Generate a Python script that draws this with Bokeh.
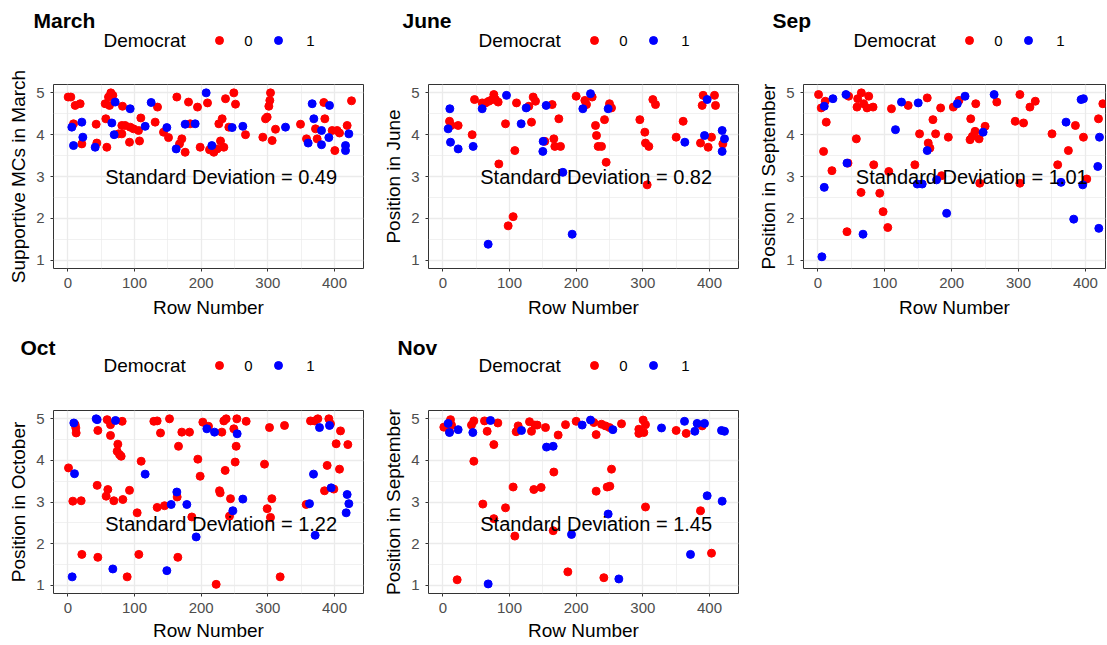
from bokeh.plotting import figure
from bokeh.layouts import row, column
from bokeh.models import Range1d, FixedTicker
from bokeh.core.properties import value
from bokeh.embed import file_html
from bokeh.resources import INLINE

# ---------------- data (Row Number, position) ----------------
titles = ["March", "June", "Sep", "Oct", "Nov"]
y_labels = ["Supportive MCs in March", "Position in June", "Position in September",
            "Position in October", "Position in September"]
sd_values = ["0.49", "0.82", "1.01", "1.22", "1.45"]
sd_label_x = [230, 230, 230, 230, 230]
sd_label_y = [3.0, 3.0, 3.0, 2.46, 2.46]
x_ticks = [0, 100, 200, 300, 400]
y_ticks = [1, 2, 3, 4, 5]
legend_title = "Democrat"
legend_labels = ["0", "1"]

march_dem0 = [(0.5,4.9),(4.5,4.9),(11,4.7),(18.5,4.74),(8.5,4.26),(21,3.78),(42.5,4.25),(43.5,3.8),
  (58.5,3.7),(57,4.38),(56,4.74),(61,4.9),(64.5,5.0),(67.5,4.94),(62.5,4.7),(82,4.68),(81,4.22),
  (86,4.22),(93.5,4.18),(76,4.02),(81,4.02),(92.5,3.82),(98.5,4.14),(106,4.1),(107.5,3.85),
  (109.5,4.4),(131,4.3),(134.5,4.66),(143.5,4.06),(151,3.93),(163.5,4.9),(181,4.78),(194.5,4.66),
  (171,3.9),(167.5,3.78),(176,3.58),(198.5,3.7),(209.5,4.76),(212.5,3.64),(183.5,4.26),(219,3.58),
  (224,3.66),(229,3.85),(234,3.7),(236.5,4.86),(249,5.0),(251.5,4.73),(231.5,4.38),(226.5,4.26),
  (241.5,4.18),(266.5,4.0),(292.5,3.94),(296.5,4.38),(299,4.42),(304,5.0),(303,4.82),(301.5,4.68),
  (306.5,3.86),(311.5,4.13),(349,4.25),(358,3.9),(371.5,4.14),(374,3.9),(384,4.77),(385.5,4.38),
  (396.5,4.1),(404,4.1),(407.5,4.04),(400.5,3.62),(419,4.22),(425.5,4.81)]
march_dem1 = [(6,4.18),(8.5,3.74),(21,4.3),(22.5,3.94),(41,3.7),(71,4.78),(66,4.28),(69.5,4.0),
  (93.5,4.62),(116,4.2),(125,4.77),(148.5,4.17),(162.5,3.66),(176,4.25),(191,4.26),(207.5,5.0),
  (216,3.74),(246.5,4.17),(262.5,4.2),(326.5,4.18),(360.5,3.8),(366.5,4.74),(369,4.38),(380.5,4.1),
  (380.5,3.76),(391.5,3.93),(392.5,4.7),(421.5,4.02),(416.5,3.74),(416.5,3.62)]

june_dem0 = [(10,4.32),(12.5,4.22),(23,4.22),(44,4.0),(47.5,4.84),(59,4.76),(64,4.76),(69,4.8),
  (74,4.84),(76.5,4.96),(79,4.84),(83,4.78),(84,3.3),(94,4.26),(98,1.82),(105.5,2.04),(108,3.62),
  (110.5,4.76),(129,4.68),(135.5,4.9),(139,4.8),(133,4.3),(153,3.84),(164,4.72),(166.5,3.9),
  (168,3.72),(176.5,3.72),(174,4.38),(200,4.92),(213,4.82),(215.5,4.72),(224,4.9),(229,4.22),
  (230.5,3.98),(233,3.72),(238,3.72),(242.5,4.36),(245,3.34),(250,4.74),(253,4.64),(295.5,4.36),
  (303,4.06),(304,3.8),(309,3.72),(306.5,2.8),(315,4.84),(319,4.72),(350,3.94),(360.5,4.32),
  (386.5,3.8),(389,4.7),(390.5,4.94),(398,3.7),(403,3.94),(407.5,4.94),(409,4.7),(420,3.78)]
june_dem1 = [(8,4.14),(10.5,4.62),(11.5,3.82),(23,3.66),(45.5,3.72),(59,4.62),(95.5,4.94),
  (117.5,4.26),(125,4.64),(150.5,3.84),(150,3.6),(155,4.7),(180,3.1),(194,1.62),(210,4.62),
  (221.5,4.98),(248,4.62),(363,3.82),(392.5,3.98),(396.5,4.84),(419,4.1),(419,3.6),(422.5,3.9),
  (68,1.38)]

sep_dem0 = [(1,4.96),(5,4.64),(11,4.8),(12.5,4.3),(8.5,3.6),(21,3.14),(45,3.32),(46,4.92),
  (43.5,1.68),(57.5,3.9),(59.5,4.86),(58.5,4.66),(65,5.0),(68.5,4.74),(73.5,4.64),(76,4.92),
  (82.5,4.66),(64.5,2.62),(83.5,3.28),(92.5,2.6),(97.5,2.16),(104.5,1.78),(106,3.12),(110,4.62),
  (135,4.7),(145,3.28),(152,4.02),(163.5,4.88),(165,3.8),(167.5,3.68),(172,4.36),(176,4.02),
  (183.5,4.64),(185,3.02),(195,3.94),(202.5,4.66),(211,4.82),(228.5,4.38),(227.5,3.88),(231,3.96),
  (235,4.08),(236,4.74),(241,3.9),(242,2.84),(250,4.2),(267.5,4.78),(295,4.32),(302,4.96),
  (302,2.84),(307.5,4.28),(317,4.66),(325,4.8),(350,4.02),(358.5,3.28),(374.5,3.62),(385,4.22),
  (397,3.94),(402,2.94),(419.5,4.38),(426,4.74)]
sep_dem1 = [(6,1.08),(9.5,4.68),(9.5,2.74),(22.5,4.86),(42,4.96),(43.5,3.32),(67.5,1.62),
  (116,4.12),(125,4.78),(148.5,2.82),(156,2.82),(150,4.76),(163.5,3.62),(177.5,2.92),(192.5,2.12),
  (208.5,4.74),(220,4.92),(247,4.06),(263.5,4.96),(363.5,2.86),(371,4.3),(382.5,1.98),(393.5,4.84),
  (397,4.86),(396,2.8),(418.5,3.24),(421,3.94),(420,1.76)]

oct_dem0 = [(1,3.82),(11,4.86),(12.5,4.66),(12,4.78),(7.5,3.02),(20,3.03),(21,1.74),(44,3.4),
  (45,4.72),(45,1.67),(59,4.98),(60,3.3),(57.5,3.14),(64,4.86),(64,4.6),(69,3.03),(75,4.39),
  (74,4.22),(77.5,4.14),(80,4.1),(81.5,4.94),(82.5,3.06),(92.5,3.28),(89,1.2),(104,2.74),
  (106.5,1.74),(110,3.98),(129,4.94),(134,4.95),(134,2.87),(145,2.91),(139,4.66),(152.5,5.0),
  (166,4.34),(164,3.12),(165,1.67),(171,4.68),(182.5,4.68),(186,2.64),(195,4.03),(198.5,3.62),
  (202.5,4.92),(211,4.82),(222.5,1.02),(227.5,3.27),(228.5,3.22),(231,4.68),(234,4.95),(237.5,5.0),
  (236,3.76),(244,3.08),(242.5,2.66),(249,4.76),(251,3.96),(252.5,4.34),(253.5,5.0),(267.5,4.94),
  (295,3.91),(299,2.84),(304,2.63),(302.5,4.79),(306,3.08),(318.5,1.2),(325,4.84),(357.5,2.94),
  (364,4.95),(370,4.95),(375,5.0),(385,3.27),(389,3.88),(391.5,5.0),(394,4.88),(399,3.31),
  (402.5,4.4),(407.5,3.79),(409,4.71),(420,4.38)]
oct_dem1 = [(6.5,1.2),(9,4.9),(10,3.68),(42.5,5.0),(44,4.98),(71.5,4.96),(67.5,1.39),(116,3.67),
  (148.5,1.35),(155,2.94),(163.5,3.24),(178.5,2.94),(192.5,2.16),(208.5,4.76),(220,4.68),
  (247.5,2.79),(254,4.64),(262.5,3.07),(362.5,2.96),(368.5,3.67),(371,2.2),(377.5,4.79),
  (392.5,4.84),(395,3.34),(419,3.18),(421.5,2.96),(417.5,2.74)]

nov_dem0 = [(1.5,4.8),(11.5,4.98),(13,4.85),(10,4.69),(21.5,1.13),(43,4.85),(46.5,4.95),(46.5,3.98),
  (60,2.95),(62.5,4.95),(66.5,4.7),(76.5,4.38),(76.5,2.6),(82.5,4.9),(94,2.86),(105.5,3.36),
  (108,2.18),(110,4.69),(113,4.83),(130,4.93),(133,4.7),(138,4.85),(141.5,4.85),(136.5,3.3),
  (147.5,3.35),(154,4.79),(166.5,3.72),(165.5,2.31),(173,4.61),(184,4.86),(187.5,1.32),(200,4.94),
  (226.5,4.91),(230,4.62),(238,4.87),(244,4.83),(250,4.79),(230,3.26),(246.5,3.36),(250.5,3.38),
  (253,3.79),(241.5,1.18),(268,4.88),(294,4.75),(294,4.65),(300.5,4.97),(301.5,4.67),(304,4.86),
  (304,2.88),(350,4.72),(365,4.65),(386.5,2.79),(389,4.83),(403,1.77)]
nov_dem1 = [(8,4.89),(10,4.67),(23,4.74),(45,4.67),(71.5,4.96),(68,1.03),(118,4.72),(155.5,4.32),
  (165.5,4.34),(193,2.22),(209,4.85),(221.5,4.97),(248,2.71),(255,4.74),(264,1.15),(328,4.78),
  (362.5,4.94),(371.5,1.74),(378,4.7),(381.5,4.89),(392.5,4.89),(396.5,3.15),(418,4.72),
  (422.5,4.7),(419,3.02)]

series = [(march_dem0, march_dem1), (june_dem0, june_dem1), (sep_dem0, sep_dem1),
          (oct_dem0, oct_dem1), (nov_dem0, nov_dem1)]

# ---------------- style / layout ----------------
FONT = "Liberation Sans"
RED = "#FF0000"
BLUE = "#0000FF"

col_width = [375, 375, 356]
frame_left = [53, 53, 53]
frame_right = [12, 12, 1]
x_hi = [443.5, 443.5, 430.0]
title_x = [33, 27, 22, 20, 22]
hdr_h = 60
title_y = [40, 39]
legend_y = [20, 21]
top_border = 24
plot_h = [266, 258]
bot_border = [58, 51]
x_tick_standoff = [5, 5]
x_label_standoff = [6, 4]


def no_align(f):
    try:
        f.frame_align = False
    except Exception:
        pass


def header(i, col, r):
    w, h = col_width[col], hdr_h
    f = figure(width=w, height=h, x_range=Range1d(0, w), y_range=Range1d(0, h),
               x_axis_type=None, y_axis_type=None, toolbar_location=None,
               output_backend="svg", min_border=0, outline_line_color=None)
    no_align(f)
    f.xgrid.visible = False
    f.ygrid.visible = False
    fl = frame_left[col]
    ty, ly = title_y[r], legend_y[r]
    f.text(x=[title_x[i]], y=[ty], text=[titles[i]], text_font=value(FONT),
           text_font_size="21px", text_font_style="bold", text_align="left",
           text_baseline="middle", text_color="black")
    f.text(x=[fl + 50], y=[ly], text=[legend_title], text_font=value(FONT),
           text_font_size="19px", text_align="left", text_baseline="middle",
           text_color="black")
    f.scatter(x=[fl + 166], y=[ly], size=8, fill_color=RED, line_color=RED)
    f.scatter(x=[fl + 225], y=[ly], size=8, fill_color=BLUE, line_color=BLUE)
    f.text(x=[fl + 195, fl + 257], y=[ly, ly], text=legend_labels, text_font=value(FONT),
           text_font_size="15px", text_align="center", text_baseline="middle",
           text_color="black")
    return f


def panel(i, col, r):
    p = figure(width=col_width[col], height=plot_h[r],
               x_range=Range1d(-21.5, x_hi[col]), y_range=Range1d(0.8, 5.2),
               toolbar_location=None, output_backend="svg",
               min_border_left=frame_left[col], min_border_right=frame_right[col],
               min_border_top=top_border, min_border_bottom=bot_border[r])
    no_align(p)
    p.background_fill_color = "white"
    p.border_fill_color = "white"
    p.outline_line_color = "#333333"
    p.outline_line_width = 1
    xt = FixedTicker(ticks=x_ticks, minor_ticks=[50, 150, 250, 350])
    yt = FixedTicker(ticks=y_ticks, minor_ticks=[1.5, 2.5, 3.5, 4.5])
    p.xaxis.ticker = xt
    p.xgrid.ticker = xt
    p.yaxis.ticker = yt
    p.ygrid.ticker = yt
    for g in (p.xgrid, p.ygrid):
        g.grid_line_color = "#EBEBEB"
        g.grid_line_width = 1.3
        g.minor_grid_line_color = "#EBEBEB"
        g.minor_grid_line_width = 0.7
    for ax in (p.xaxis, p.yaxis):
        ax.axis_line_color = None
        ax.major_tick_line_color = "#333333"
        ax.major_tick_in = 0
        ax.major_tick_out = 3
        ax.minor_tick_line_color = None
        ax.major_label_text_font = FONT
        ax.major_label_text_font_size = "15px"
        ax.major_label_text_color = "#4D4D4D"
        ax.axis_label_text_font = FONT
        ax.axis_label_text_font_size = "19px"
        ax.axis_label_text_font_style = "normal"
        ax.axis_label_text_color = "black"
    p.xaxis.axis_label = "Row Number"
    p.xaxis.major_label_standoff = x_tick_standoff[r]
    p.xaxis.axis_label_standoff = x_label_standoff[r]
    p.yaxis.axis_label = y_labels[i]
    p.yaxis.major_label_standoff = 5
    p.yaxis.axis_label_standoff = 4

    d0, d1 = series[i]
    p.scatter([a for a, b in d0], [b for a, b in d0], size=8, fill_color=RED, line_color=RED)
    p.scatter([a for a, b in d1], [b for a, b in d1], size=8, fill_color=BLUE, line_color=BLUE)
    p.text(x=[sd_label_x[i]], y=[sd_label_y[i]], text=["Standard Deviation = " + sd_values[i]],
           text_font=value(FONT), text_font_size="20px", text_align="center",
           text_baseline="middle", text_color="black")
    return p


positions = [(0, 0), (1, 0), (2, 0), (0, 1), (1, 1)]
cells = [column(header(i, col, r), panel(i, col, r)) for i, (col, r) in enumerate(positions)]

layout = column(row(cells[0], cells[1], cells[2]), row(cells[3], cells[4]))

open("out.html", "w").write(file_html(layout, INLINE))
